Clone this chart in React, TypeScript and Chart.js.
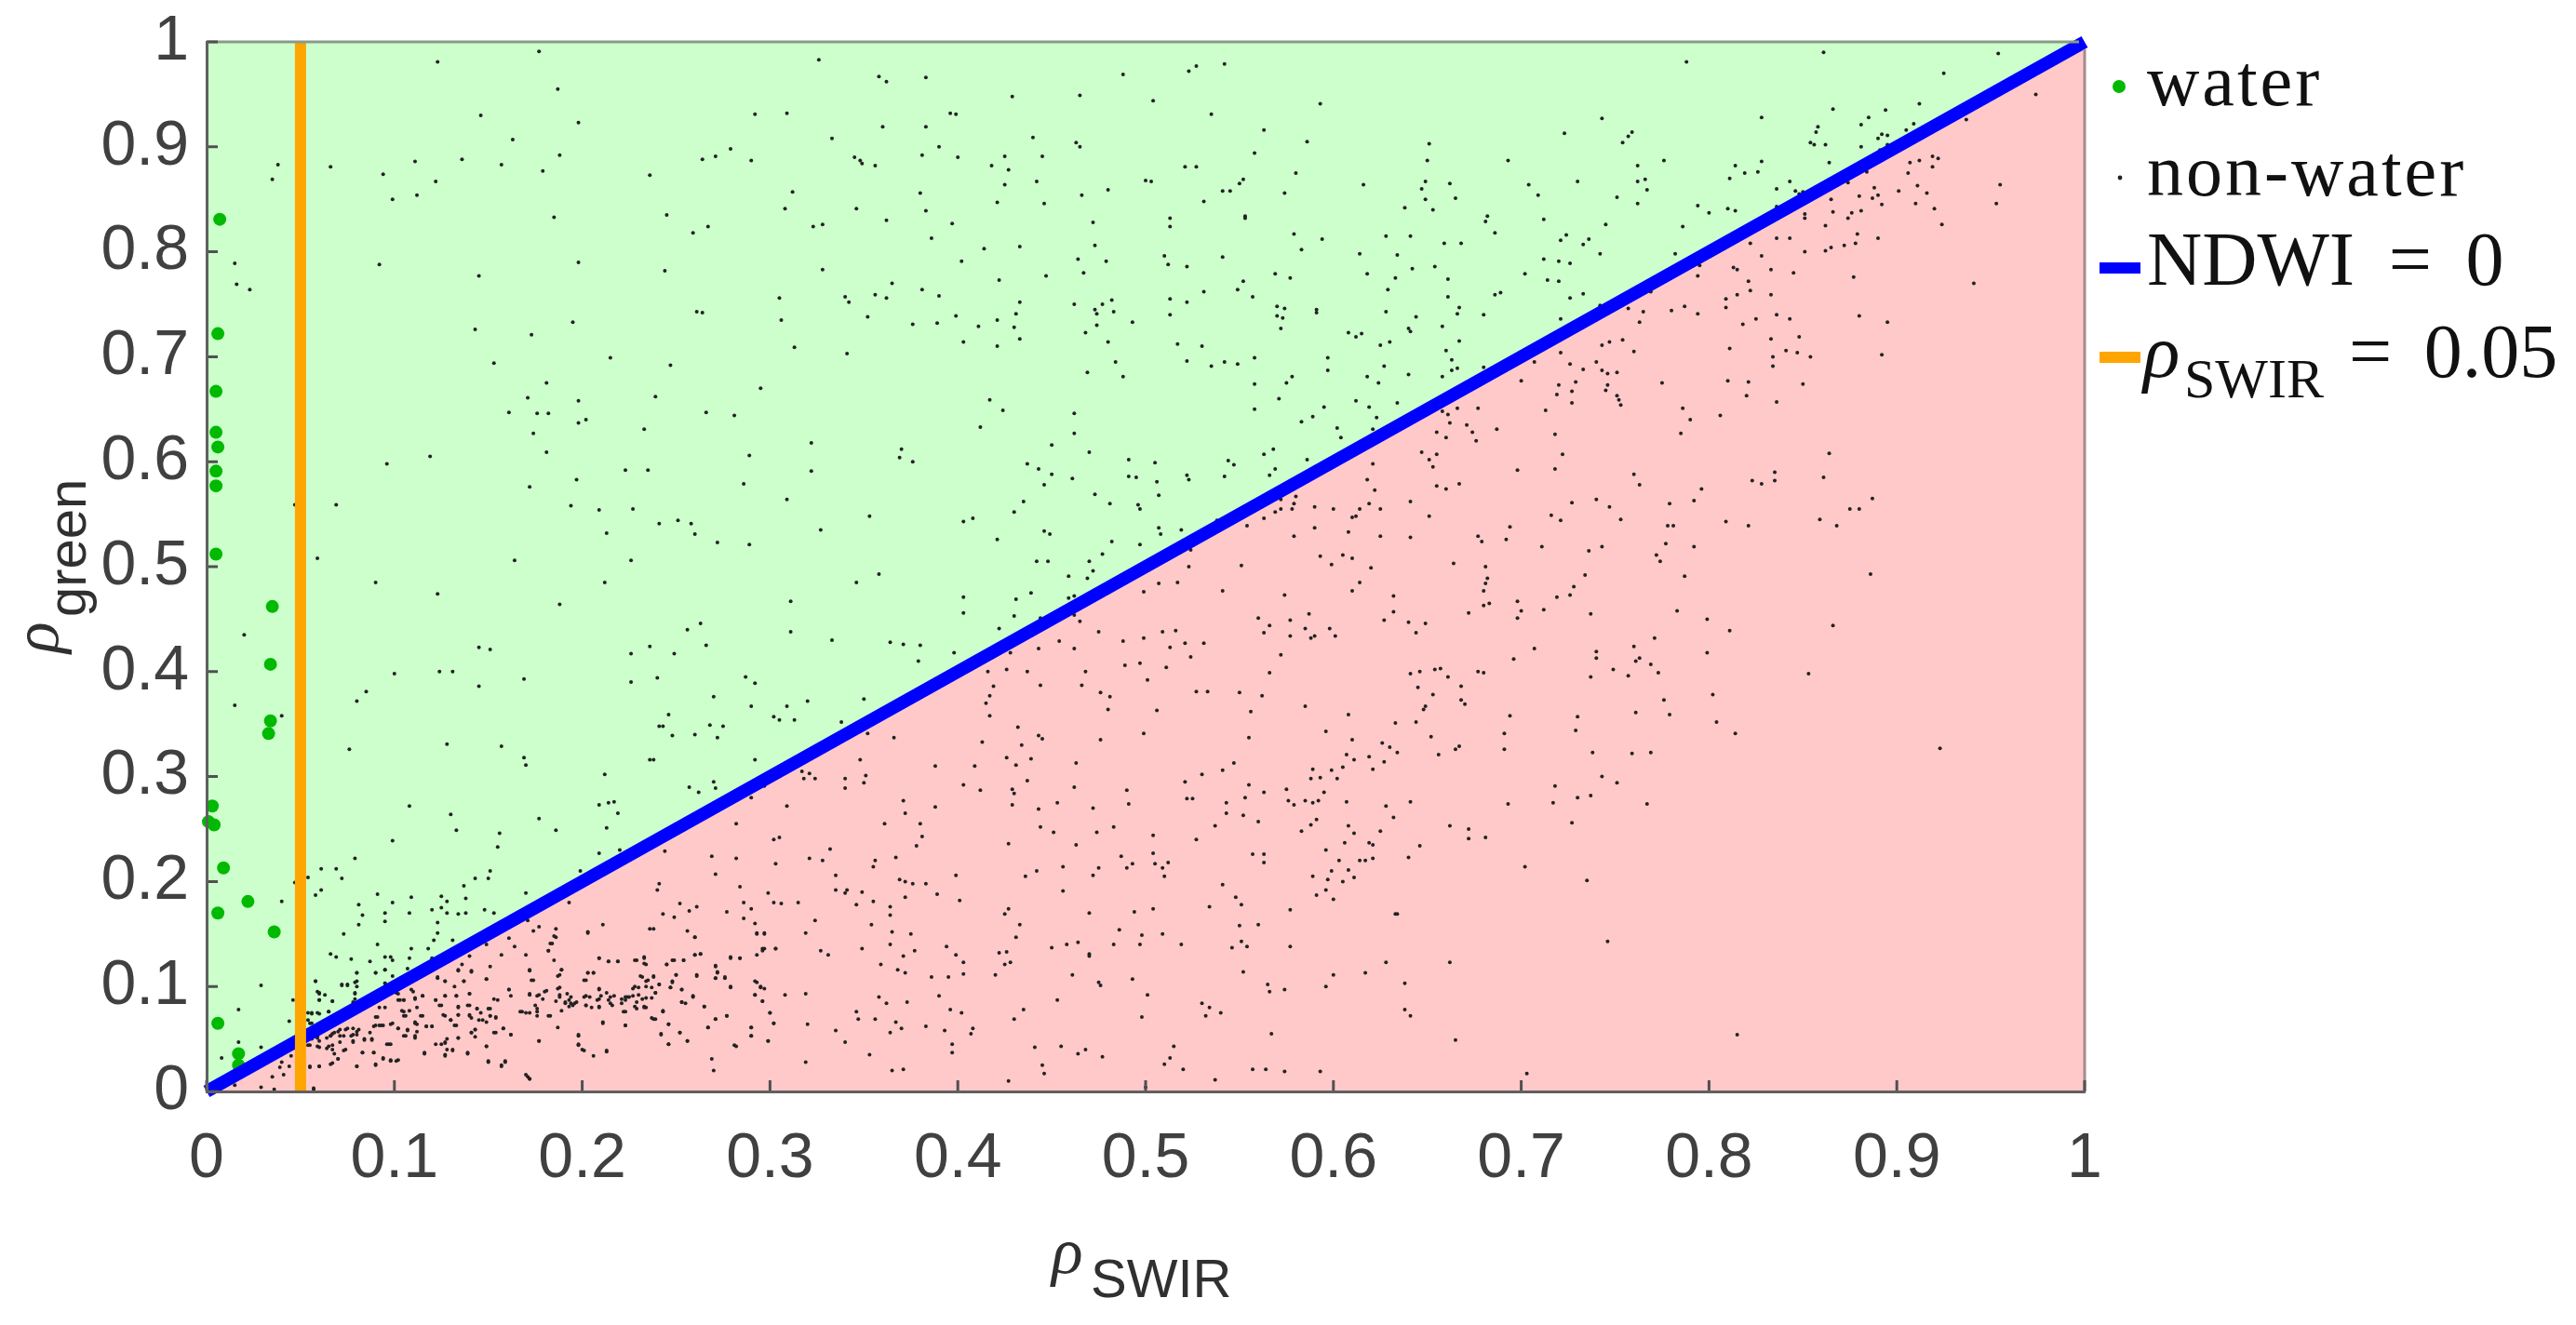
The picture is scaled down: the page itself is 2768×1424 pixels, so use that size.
import { useEffect, useRef } from "react";
import { Chart, registerables } from "chart.js";

Chart.register(...registerables);

// [rho_SWIR, rho_green]
const water = [[.007,.831],[.006,.722],[.005,.667],[.005,.628],[.006,.614],[.005,.591],[.005,.577],[.005,.512],[.035,.462],[.034,.407],[.034,.353],[.033,.341],[.003,.272],[.001,.257],[.004,.254],[.009,.213],[.022,.181],[.006,.170],[.036,.152],[.006,.065],[.017,.036],[.017,.025]];

const nonWaterLeftTop = [[.177,.991],[.123,.981],[.187,.955],[.146,.930],[.198,.923],[.163,.907],[.188,.892],[.038,.883],[.066,.881],[.111,.886],[.136,.888],[.157,.883],[.179,.877],[.035,.869],[.094,.874],[.122,.867],[.236,.873],[.099,.850],[.112,.854],[.185,.833],[.015,.789],[.092,.788],[.198,.790],[.145,.777],[.016,.769],[.023,.764],[.143,.726],[.195,.733],[.173,.721],[.153,.694],[.215,.699],[.181,.675],[.171,.661],[.198,.658],[.161,.647],[.176,.646],[.182,.646],[.198,.637],[.202,.640],[.233,.631],[.174,.627],[.119,.605],[.181,.609],[.096,.598]];

const nonWaterLeftMid = [[.223,.592],[.235,.592],[.197,.583],[.172,.576],[.069,.559],[.047,.559],[.194,.558],[.209,.554],[.227,.555],[.213,.532],[.059,.508],[.164,.506],[.226,.506],[.090,.485],[.212,.485],[.123,.474],[.188,.464],[.020,.435],[.145,.423],[.151,.421],[.236,.424],[.226,.417],[.124,.400],[.131,.400],[.100,.398],[.169,.393],[.226,.390],[.145,.386],[.085,.381],[.080,.372],[.015,.368],[.040,.358],[.076,.326],[.128,.331],[.157,.329],[.169,.318],[.170,.311],[.212,.302],[.236,.316],[.108,.272],[.209,.273],[.214,.275],[.217,.276],[.130,.264],[.219,.265],[.177,.260],[.133,.249],[.186,.249],[.213,.251],[.156,.246],[.099,.239],[.155,.233],[.209,.227],[.220,.230],[.079,.222],[.061,.212],[.069,.212],[.151,.210],[.199,.210],[.054,.204],[.072,.203],[.143,.203],[.150,.203],[.047,.199],[.137,.196],[.061,.192],[.058,.187],[.091,.188],[.170,.189],[.109,.185],[.125,.186],[.138,.184],[.040,.181],[.099,.180],[.128,.181],[.081,.178],[.193,.180]];

const nonWaterLeftBottom = [[.083,.168],[.095,.170],[.108,.170],[.120,.173],[.125,.175],[.128,.170],[.134,.169],[.138,.170],[.148,.173],[.153,.170],[.123,.161],[.081,.159],[.095,.162],[.171,.163],[.211,.159],[.174,.153],[.177,.157],[.186,.155],[.203,.152],[.236,.155],[.123,.151],[.073,.150],[.186,.147],[.161,.146],[.131,.144],[.121,.144],[.091,.140],[.149,.140],[.183,.141],[.164,.138],[.109,.136],[.118,.136],[.182,.134],[.066,.131],[.069,.128],[.077,.126],[.087,.124],[.095,.128],[.098,.128],[.099,.125],[.108,.127],[.120,.127],[.140,.129],[.157,.130],[.170,.130],[.136,.121],[.209,.127],[.214,.124],[.219,.124],[.228,.125],[.233,.128],[.234,.121],[.080,.113],[.090,.113],[.095,.116],[.107,.117],[.134,.115],[.141,.115],[.151,.119],[.172,.115],[.189,.116],[.188,.111],[.203,.113],[.206,.113],[.123,.109],[.127,.105],[.137,.105],[.149,.107],[.174,.106],[.201,.106],[.058,.105],[.029,.101],[.072,.102],[.075,.102],[.080,.105],[.080,.100],[.095,.103],[.231,.110],[.235,.106],[.059,.095],[.109,.097],[.161,.097],[.188,.099],[.209,.098],[.228,.100],[.079,.093],[.060,.093],[.101,.094],[.115,.091],[.127,.091],[.133,.091],[.140,.093],[.172,.092],[.176,.091],[.181,.096],[.188,.090],[.202,.091],[.209,.088],[.215,.090],[.223,.090],[.227,.091],[.232,.088],[.046,.087],[.060,.087],[.067,.086],[.078,.085],[.191,.085],[.194,.084],[.193,.081],[.196,.084],[.103,.087],[.105,.087],[.111,.088],[.122,.087],[.125,.082],[.134,.081],[.140,.082],[.153,.088],[.175,.082],[.202,.082],[.209,.081],[.215,.084],[.223,.087],[.228,.081],[.233,.081],[.167,.076],[.170,.075],[.176,.076],[.182,.072],[.223,.076],[.144,.079],[.151,.079],[.105,.076],[.106,.072],[.114,.072],[.127,.072],[.134,.073],[.140,.073],[.141,.070],[.147,.068],[.151,.072],[.154,.071],[.017,.078],[.054,.075],[.056,.075],[.059,.075],[.065,.076],[.054,.068],[.044,.067],[.056,.065],[.090,.071],[.111,.066],[.130,.068],[.132,.063],[.211,.066],[.223,.063],[.090,.063],[.093,.063],[.099,.065],[.117,.062],[.120,.062],[.143,.059],[.158,.060],[.067,.055],[.071,.059],[.075,.060],[.078,.060],[.081,.059],[.071,.053],[.077,.053],[.080,.054],[.102,.060],[.107,.059],[.111,.053],[.106,.053],[.141,.056],[.153,.056],[.162,.054],[.134,.051],[.177,.048],[.198,.054],[.054,.053],[.056,.050],[.059,.053],[.060,.048],[.064,.051],[.066,.053],[.078,.047],[.084,.050],[.088,.050],[.054,.044],[.059,.043],[.064,.041],[.067,.044],[.074,.040],[.017,.047],[.029,.042],[.096,.045],[.098,.045],[.122,.045],[.127,.047],[.149,.043],[.198,.045],[.200,.040],[.213,.039],[.083,.037],[.089,.037],[.116,.037],[.128,.040],[.131,.040],[.127,.035],[.139,.037],[.206,.034],[.008,.032],[.070,.031],[.094,.032],[.098,.030],[.102,.030],[.045,.034],[.150,.029],[.159,.029],[.157,.025],[.040,.028],[.044,.024],[.039,.023],[.067,.027],[.055,.024],[.060,.024],[.080,.024],[.090,.026],[.035,.014],[.041,.016],[.171,.014],[.172,.012],[.015,.006],[.029,.004],[.036,.002],[.057,.003]];

const nonWaterBandNearOrigin = [[.058,.105],[.060,.094],[.063,.092],[.060,.087],[.067,.086],[.072,.101],[.075,.101],[.079,.104],[.080,.113],[.090,.113],[.095,.116],[.099,.110],[.079,.094],[.079,.088],[.095,.103],[.056,.074],[.060,.074],[.065,.076],[.055,.065],[.070,.057],[.074,.059],[.080,.057],[.078,.054],[.073,.053],[.068,.056],[.066,.053],[.071,.047],[.078,.048],[.084,.049],[.088,.049],[.087,.056],[.089,.062],[.092,.063],[.094,.063],[.091,.071],[.098,.064],[.102,.060],[.107,.058],[.105,.053],[.112,.057],[.111,.051],[.111,.065],[.112,.064],[.115,.072],[.108,.077],[.104,.077],[.105,.072],[.092,.080],[.095,.080],[.112,.080],[.102,.087],[.105,.087],[.111,.089],[.115,.091],[.110,.095],[.102,.093],[.122,.087],[.124,.082],[.127,.091],[.133,.091],[.123,.108],[.127,.105],[.132,.100],[.137,.105],[.134,.116],[.141,.114],[.149,.107],[.161,.097],[.162,.091],[.140,.093],[.155,.087],[.172,.093],[.177,.092],[.173,.106],[.172,.116],[.134,.080],[.139,.082],[.126,.073],[.134,.073],[.140,.072],[.144,.079],[.146,.075],[.150,.079],[.151,.072],[.154,.070],[.145,.068],[.149,.066],[.130,.068],[.133,.063],[.117,.062],[.120,.062],[.168,.076],[.172,.075],[.176,.079],[.176,.072],[.158,.060],[.154,.056],[.143,.059],[.141,.056],[.143,.052],[.134,.051],[.128,.050],[.125,.045],[.127,.046],[.149,.043],[.162,.054],[.177,.048],[.097,.045],[.083,.037],[.089,.037],[.073,.039],[.068,.036],[.116,.036],[.127,.034],[.131,.039],[.139,.036],[.070,.031],[.066,.026],[.060,.024],[.055,.023],[.080,.024],[.090,.025],[.094,.031],[.098,.029],[.101,.029],[.150,.028],[.159,.028],[.157,.024],[.170,.016],[.172,.012],[.057,.002],[.060,.042],[.059,.051],[.055,.044],[.065,.043],[.067,.040]];

const nonWaterBandCluster = [[.193,.087],[.191,.084],[.195,.082],[.197,.085],[.194,.090],[.192,.093],[.188,.092],[.186,.086],[.179,.088],[.180,.095],[.187,.098],[.201,.090],[.204,.090],[.202,.082],[.205,.080],[.209,.080],[.208,.087],[.209,.097],[.213,.094],[.210,.091],[.214,.087],[.216,.082],[.217,.091],[.221,.088],[.221,.084],[.224,.090],[.225,.090],[.222,.076],[.227,.098],[.230,.099],[.230,.092],[.229,.085],[.229,.079],[.233,.080],[.234,.080],[.234,.089],[.237,.089],[.234,.105],[.234,.100],[.237,.099],[.232,.109],[.238,.110],[.241,.102],[.239,.094],[.247,.099],[.248,.105],[.250,.111],[.253,.097],[.253,.085],[.255,.084],[.259,.091],[.265,.081],[.243,.076],[.237,.070],[.239,.069],[.211,.065],[.223,.063],[.187,.061],[.246,.064],[.271,.069],[.277,.072],[.267,.061],[.252,.056],[.242,.055],[.183,.072],[.189,.077],[.198,.053],[.198,.044],[.201,.039],[.213,.038],[.256,.048],[.246,.045],[.290,.061],[.290,.053],[.299,.048],[.281,.044],[.300,.075],[.302,.065],[.292,.092],[.296,.086],[.292,.105],[.295,.100],[.297,.098],[.279,.100],[.276,.108],[.271,.119],[.272,.113],[.271,.108],[.261,.111],[.279,.127],[.284,.127],[.260,.130],[.263,.131],[.248,.125],[.254,.125],[.245,.121],[.229,.125],[.233,.127],[.233,.122],[.219,.124],[.214,.124],[.209,.127],[.185,.125],[.189,.116],[.187,.110],[.203,.113],[.206,.113],[.202,.106],[.182,.134],[.184,.141],[.185,.148],[.203,.151],[.260,.147],[.293,.150],[.297,.150],[.303,.136],[.296,.134],[.297,.136],[.293,.130]];

const nonWaterUpperMid = [[.326,.983],[.358,.967],[.362,.962],[.383,.966],[.488,.969],[.523,.972],[.527,.977],[.542,.979],[.429,.948],[.465,.949],[.504,.944],[.292,.931],[.309,.932],[.396,.932],[.399,.931],[.535,.931],[.360,.919],[.383,.919],[.563,.916],[.333,.908],[.440,.909],[.463,.904],[.465,.900],[.279,.898],[.390,.900],[.558,.894],[.264,.888],[.271,.891],[.290,.887],[.345,.890],[.348,.887],[.349,.884],[.356,.882],[.381,.892],[.400,.890],[.425,.891],[.445,.891],[.418,.882],[.427,.878],[.521,.881],[.527,.881],[.580,.875],[.425,.864],[.442,.867],[.500,.868],[.503,.867],[.552,.869],[.550,.865],[.312,.857],[.380,.856],[.480,.859],[.466,.854],[.541,.858],[.545,.858],[.574,.856],[.421,.847],[.446,.846],[.531,.848],[.308,.841],[.346,.841],[.383,.839],[.245,.835],[.362,.830],[.513,.832],[.553,.834],[.553,.832],[.397,.827],[.472,.828],[.267,.824],[.323,.824],[.328,.826],[.513,.824],[.259,.818],[.579,.817],[.386,.813],[.433,.805],[.473,.806],[.414,.803],[.583,.802],[.510,.796],[.541,.795],[.464,.793],[.402,.791],[.479,.791],[.512,.788],[.522,.786],[.244,.782],[.328,.783],[.467,.780],[.447,.777],[.569,.779],[.577,.775],[.422,.773],[.365,.770],[.552,.772],[.549,.764],[.381,.764],[.531,.762],[.356,.759],[.390,.758],[.557,.757],[.305,.756],[.340,.757],[.362,.756],[.513,.755],[.522,.752],[.342,.752],[.433,.752],[.462,.750],[.482,.754],[.477,.750],[.570,.748],[.574,.746],[.261,.743],[.264,.742],[.431,.741],[.473,.745],[.474,.741],[.483,.743],[.352,.738],[.399,.739],[.513,.740],[.570,.739],[.573,.737],[.306,.735],[.421,.735],[.493,.733],[.376,.731],[.389,.732],[.411,.729],[.430,.728],[.474,.730],[.572,.727],[.468,.723],[.433,.717],[.403,.714],[.480,.714],[.517,.712],[.313,.709],[.421,.710],[.530,.710],[.341,.703],[.558,.699],[.522,.696],[.484,.695],[.247,.692],[.542,.695],[.549,.693],[.535,.691],[.469,.685],[.488,.681],[.578,.681],[.295,.670],[.575,.675],[.558,.674],[.239,.662],[.571,.660],[.417,.659],[.424,.649],[.558,.650],[.266,.647],[.281,.644],[.462,.646],[.583,.638],[.412,.633],[.462,.627],[.322,.618],[.450,.616],[.370,.612],[.568,.612],[.470,.609],[.563,.607],[.289,.606],[.369,.604],[.376,.600],[.491,.602],[.544,.601],[.505,.599],[.547,.597],[.437,.598],[.443,.593],[.569,.593],[.322,.591],[.450,.588],[.491,.586],[.495,.585],[.461,.584],[.522,.587],[.523,.583],[.542,.586],[.566,.587],[.506,.581],[.286,.579],[.446,.578],[.507,.568],[.473,.569],[.309,.564],[.435,.562],[.481,.560],[.496,.559],[.497,.555],[.430,.552],[.353,.548],[.408,.546],[.403,.543],[.251,.544],[.241,.541],[.258,.541],[.507,.537],[.519,.535],[.327,.535],[.260,.531],[.446,.534],[.449,.531],[.508,.531],[.421,.526],[.272,.523],[.289,.521],[.482,.524],[.497,.521],[.477,.512],[.580,.567],[.572,.564],[.579,.560],[.578,.555],[.572,.555],[.569,.552],[.538,.544],[.563,.546],[.554,.539],[.579,.529],[.524,.516]];

const nonWaterLowerMid = [[.358,.493],[.346,.485],[.442,.505],[.448,.505],[.470,.505],[.459,.491],[.472,.496],[.469,.489],[.523,.500],[.551,.501],[.599,.502],[.620,.499],[.614,.485],[.507,.484],[.517,.485],[.499,.476],[.541,.477],[.610,.477],[.403,.471],[.439,.475],[.431,.469],[.459,.470],[.462,.472],[.311,.467],[.574,.473],[.632,.472],[.403,.456],[.263,.446],[.256,.440],[.430,.453],[.444,.451],[.462,.454],[.465,.448],[.587,.455],[.560,.451],[.577,.449],[.566,.444],[.627,.449],[.632,.457],[.422,.441],[.311,.438],[.475,.438],[.509,.438],[.516,.439],[.585,.441],[.598,.441],[.563,.437],[.577,.434],[.590,.434],[.588,.432],[.601,.434],[.333,.430],[.488,.429],[.499,.432],[.454,.429],[.531,.427],[.521,.427],[.364,.428],[.371,.426],[.380,.425],[.266,.425],[.443,.422],[.462,.422],[.513,.423],[.249,.417],[.398,.418],[.428,.418],[.524,.414],[.572,.416],[.379,.410],[.489,.406],[.497,.408],[.511,.404],[.416,.400],[.426,.402],[.437,.400],[.468,.400],[.566,.399],[.240,.394],[.287,.395],[.292,.389],[.501,.392],[.444,.387],[.466,.387],[.419,.386],[.270,.376],[.527,.381],[.533,.381],[.550,.380],[.417,.377],[.476,.380],[.481,.376],[.562,.377],[.350,.374],[.320,.372],[.415,.370],[.290,.367],[.309,.367],[.585,.367],[.480,.364],[.506,.363],[.246,.359],[.417,.358],[.556,.362],[.608,.359],[.302,.357],[.305,.354],[.313,.354],[.338,.352],[.241,.348],[.243,.348],[.268,.349],[.275,.348],[.633,.351],[.432,.347],[.352,.341],[.248,.339],[.260,.340],[.272,.337],[.366,.337],[.443,.339],[.445,.336],[.499,.341],[.555,.337],[.596,.343],[.476,.335],[.413,.333],[.610,.335],[.434,.330],[.626,.332],[.630,.328],[.238,.316],[.292,.316],[.348,.316],[.426,.318],[.439,.317],[.607,.321],[.611,.316],[.619,.319],[.627,.314],[.463,.313],[.547,.313],[.431,.311],[.388,.310],[.409,.310],[.605,.309],[.589,.307],[.599,.306],[.541,.306],[.621,.307],[.317,.305],[.321,.303],[.351,.301],[.530,.302],[.588,.298],[.593,.299],[.602,.298],[.318,.298],[.324,.298],[.340,.298],[.350,.294],[.437,.296],[.521,.295],[.270,.295],[.403,.292],[.257,.290],[.271,.289],[.297,.291],[.340,.289],[.462,.290],[.555,.292],[.429,.288],[.262,.285],[.412,.287],[.430,.284],[.490,.287],[.563,.285],[.575,.288],[.595,.285],[.553,.280],[.522,.279],[.525,.279],[.290,.280],[.371,.277],[.576,.277],[.585,.277],[.589,.275],[.592,.277],[.607,.276],[.543,.275],[.453,.275],[.491,.274],[.579,.273],[.309,.272],[.388,.271],[.429,.273],[.628,.272],[.443,.269],[.472,.270],[.372,.265],[.543,.265],[.552,.263],[.632,.261],[.591,.259],[.560,.257],[.361,.255],[.380,.255],[.282,.255],[.537,.253],[.588,.254],[.444,.252],[.483,.252],[.608,.253],[.451,.247],[.474,.247],[.583,.248],[.611,.246],[.625,.248],[.504,.244],[.381,.243],[.305,.242],[.302,.240],[.527,.240],[.427,.236],[.463,.235],[.378,.234],[.606,.237],[.619,.237],[.621,.235],[.244,.229],[.332,.231],[.596,.230],[.504,.227],[.557,.226],[.563,.226],[.269,.224],[.282,.222],[.321,.222],[.328,.220],[.367,.223],[.487,.224],[.621,.222],[.603,.220],[.614,.220],[.617,.220],[.356,.220],[.303,.217],[.563,.218],[.493,.217],[.505,.217],[.512,.218],[.355,.214],[.456,.214],[.490,.213],[.475,.213],[.509,.213],[.442,.210],[.599,.210],[.608,.211],[.271,.207],[.335,.206],[.399,.206],[.436,.205],[.472,.206],[.510,.205],[.589,.205],[.611,.204],[.369,.202],[.372,.200],[.597,.202],[.605,.200],[.241,.198],[.376,.198],[.383,.198],[.541,.197],[.284,.195],[.240,.192],[.335,.192],[.341,.192],[.340,.189],[.349,.190],[.389,.188],[.456,.191],[.299,.189],[.596,.192],[.591,.187],[.372,.185],[.548,.185],[.600,.183],[.401,.182],[.355,.181],[.286,.180],[.302,.180],[.306,.179],[.315,.180],[.346,.178],[.551,.178],[.252,.179],[.261,.176],[.364,.176],[.534,.176],[.257,.172],[.290,.174],[.427,.174],[.504,.174],[.577,.173],[.494,.171],[.277,.171],[.425,.169],[.243,.169],[.249,.166],[.364,.168],[.470,.170],[.633,.169],[.286,.165],[.324,.163],[.292,.160],[.433,.159],[.354,.159],[.550,.158],[.560,.159],[.238,.155],[.256,.153],[.293,.151],[.297,.151],[.319,.151],[.365,.152],[.375,.150],[.486,.154],[.498,.149],[.509,.150],[.260,.147],[.431,.147],[.464,.142],[.551,.143],[.483,.140],[.497,.140],[.519,.140],[.364,.140],[.458,.140],[.450,.137],[.394,.138],[.554,.138],[.546,.137],[.577,.138],[.296,.136],[.303,.136],[.349,.136],[.327,.134],[.331,.130],[.426,.133],[.422,.132],[.263,.131],[.260,.130],[.377,.134],[.470,.131],[.470,.129],[.399,.130],[.279,.128],[.284,.127],[.371,.129],[.249,.125],[.254,.125],[.245,.121],[.403,.123],[.425,.121],[.428,.123],[.628,.123],[.271,.120],[.359,.121],[.368,.116],[.372,.113],[.552,.114],[.272,.114],[.250,.111],[.261,.110],[.276,.109],[.271,.108],[.403,.112],[.420,.111],[.461,.111],[.600,.111],[.617,.113],[.386,.109],[.395,.109],[.493,.107],[.238,.109],[.248,.104],[.241,.102],[.247,.099],[.293,.104],[.295,.099],[.475,.104],[.476,.101],[.279,.099],[.253,.097],[.565,.102],[.566,.095],[.574,.097],[.596,.100],[.239,.094],[.319,.093],[.292,.092],[.308,.092],[.259,.090],[.390,.091],[.358,.090],[.501,.092],[.296,.086],[.453,.087],[.253,.085],[.362,.084],[.373,.085],[.265,.081],[.530,.084],[.534,.080],[.396,.078],[.435,.078],[.243,.077],[.300,.075],[.346,.076],[.402,.075],[.540,.075],[.277,.072],[.532,.072],[.498,.071],[.238,.069],[.271,.069],[.347,.069],[.356,.069],[.430,.069],[.367,.066],[.302,.065],[.246,.064],[.320,.064],[.383,.062],[.290,.061],[.267,.061],[.370,.060],[.408,.060],[.335,.058],[.393,.058],[.364,.056],[.252,.056],[.242,.054],[.407,.055],[.567,.055],[.290,.053],[.256,.048],[.299,.048],[.340,.047],[.397,.045],[.246,.045],[.282,.043],[.455,.043],[.441,.042],[.515,.043],[.468,.040],[.397,.037],[.464,.036],[.353,.035],[.477,.033],[.269,.031],[.513,.032],[.319,.028],[.445,.025],[.510,.026],[.270,.020],[.365,.020],[.371,.021],[.446,.017],[.520,.021],[.557,.021],[.564,.021],[.574,.019],[.593,.019],[.427,.010],[.537,.011],[.500,.004]];

const nonWaterUpperRight = [[.861,.990],[.954,.989],[.788,.981],[.925,.970],[.974,.950],[.593,.941],[.912,.941],[.866,.936],[.894,.935],[.743,.927],[.828,.928],[.885,.928],[.937,.926],[.881,.921],[.909,.922],[.858,.919],[.905,.916],[.857,.914],[.759,.914],[.723,.913],[.757,.910],[.892,.912],[.895,.911],[.890,.908],[.754,.904],[.586,.905],[.651,.903],[.854,.904],[.856,.902],[.862,.902],[.895,.902],[.881,.900],[.891,.897],[.650,.887],[.693,.887],[.776,.887],[.828,.886],[.864,.885],[.907,.885],[.912,.887],[.919,.891],[.922,.889],[.762,.882],[.814,.882],[.919,.881],[.819,.875],[.826,.876],[.884,.876],[.906,.875],[.811,.870],[.762,.867],[.766,.869],[.649,.867],[.730,.867],[.662,.865],[.616,.864],[.704,.864],[.843,.867],[.874,.866],[.955,.864],[.911,.863],[.647,.860],[.836,.860],[.767,.859],[.888,.861],[.846,.858],[.848,.855],[.850,.857],[.916,.856],[.709,.854],[.901,.858],[.751,.852],[.649,.850],[.665,.851],[.865,.850],[.880,.853],[.887,.851],[.890,.854],[.762,.846],[.953,.846],[.910,.846],[.638,.842],[.794,.844],[.653,.840],[.810,.841],[.814,.839],[.892,.845],[.920,.841],[.836,.843],[.800,.837],[.866,.838],[.881,.839],[.876,.837],[.851,.836],[.851,.832],[.682,.834],[.712,.831],[.681,.829],[.874,.832],[.924,.826],[.745,.826],[.862,.825],[.786,.824],[.879,.817],[.686,.818],[.724,.816],[.628,.815],[.641,.815],[.594,.812],[.721,.811],[.736,.812],[.836,.813],[.843,.813],[.890,.813],[.659,.808],[.668,.808],[.733,.807],[.822,.808],[.872,.806],[.878,.808],[.865,.804],[.862,.801],[.851,.800],[.614,.798],[.634,.797],[.742,.798],[.782,.798],[.828,.796],[.712,.793],[.720,.791],[.726,.789],[.654,.786],[.642,.784],[.795,.787],[.813,.785],[.815,.783],[.833,.783],[.702,.779],[.618,.779],[.845,.780],[.794,.777],[.877,.776],[.633,.775],[.661,.774],[.714,.773],[.720,.772],[.821,.772],[.941,.770],[.629,.764],[.822,.763],[.689,.761],[.686,.759],[.733,.760],[.815,.759],[.833,.759],[.661,.757],[.726,.756],[.809,.755],[.769,.762],[.742,.749],[.787,.748],[.809,.747],[.667,.747],[.591,.745],[.591,.742],[.628,.743],[.666,.741],[.680,.740],[.757,.746],[.765,.743],[.780,.744],[.794,.741],[.836,.740],[.880,.739],[.644,.738],[.825,.736],[.843,.736],[.721,.736],[.763,.733],[.895,.733],[.818,.731],[.658,.729],[.640,.727],[.641,.724],[.608,.723],[.615,.722],[.612,.719],[.848,.719],[.754,.716],[.747,.714],[.743,.711],[.833,.717],[.667,.715],[.630,.714],[.625,.711],[.811,.708],[.660,.706],[.841,.706],[.847,.704],[.721,.704],[.760,.705],[.892,.702],[.854,.700],[.834,.700],[.597,.699],[.663,.697],[.707,.695],[.740,.695],[.726,.693],[.627,.691],[.834,.691],[.680,.690],[.666,.689],[.663,.687],[.597,.687],[.733,.688],[.743,.687],[.746,.684],[.751,.685],[.640,.683],[.618,.681],[.658,.681],[.624,.675],[.700,.677],[.729,.676],[.720,.673],[.775,.675],[.810,.677],[.821,.676],[.850,.674],[.746,.673],[.745,.668],[.727,.667],[.719,.664],[.820,.663],[.751,.663],[.752,.659],[.612,.658],[.634,.656],[.727,.656],[.836,.657],[.595,.652],[.619,.652],[.753,.654],[.677,.651],[.666,.651],[.786,.651],[.658,.648],[.661,.645],[.713,.649],[.589,.643],[.623,.642],[.806,.644],[.790,.640],[.662,.637],[.671,.635],[.602,.632],[.621,.631],[.687,.631],[.655,.628],[.674,.628],[.785,.627],[.718,.626],[.604,.623],[.660,.623],[.676,.620],[.647,.609],[.655,.607],[.722,.607],[.864,.608],[.651,.602],[.586,.602],[.621,.598],[.653,.595],[.718,.593],[.698,.592],[.835,.590],[.760,.588],[.618,.583],[.861,.585],[.835,.582],[.622,.573],[.667,.579],[.655,.577],[.660,.574],[.763,.578],[.823,.582],[.828,.579],[.796,.574],[.887,.565],[.740,.564],[.727,.561],[.641,.562],[.792,.563],[.619,.560],[.779,.560],[.590,.557],[.600,.555],[.614,.555],[.625,.555],[.747,.557],[.875,.555],[.880,.555],[.651,.548],[.610,.547],[.612,.548],[.716,.549],[.721,.544],[.753,.545],[.809,.543],[.859,.545],[.590,.537],[.694,.538],[.778,.539],[.781,.539],[.821,.539],[.868,.539],[.608,.533],[.625,.529],[.641,.528],[.677,.529],[.679,.524],[.692,.526],[.711,.519],[.743,.519],[.736,.515],[.792,.519],[.777,.522],[.593,.510],[.605,.511],[.610,.508],[.772,.511]];

const nonWaterLowerRight = [[.664,.503],[.681,.500],[.774,.505],[.787,.491],[.886,.493],[.734,.492],[.682,.489],[.681,.484],[.728,.481],[.680,.477],[.726,.473],[.719,.471],[.698,.467],[.683,.465],[.680,.463],[.700,.458],[.712,.459],[.783,.458],[.672,.456],[.737,.455],[.698,.451],[.799,.450],[.640,.447],[.649,.446],[.644,.437],[.811,.439],[.866,.444],[.771,.432],[.707,.422],[.760,.424],[.740,.419],[.799,.418],[.740,.413],[.763,.413],[.761,.410],[.696,.412],[.769,.407],[.654,.402],[.657,.403],[.646,.400],[.641,.398],[.677,.400],[.680,.399],[.749,.402],[.757,.396],[.773,.399],[.853,.398],[.661,.395],[.737,.395],[.668,.386],[.645,.385],[.653,.378],[.802,.378],[.668,.373],[.670,.369],[.776,.373],[.649,.367],[.648,.364],[.761,.361],[.694,.358],[.730,.357],[.779,.359],[.644,.352],[.804,.352],[.729,.344],[.691,.341],[.814,.341],[.652,.338],[.923,.327],[.667,.329],[.665,.326],[.691,.326],[.738,.323],[.759,.322],[.769,.323],[.656,.321],[.634,.323],[.743,.300],[.751,.294],[.718,.291],[.730,.280],[.737,.282],[.717,.275],[.767,.274],[.693,.274],[.641,.276],[.727,.256],[.662,.253],[.672,.250],[.672,.241],[.681,.242],[.646,.234],[.640,.223],[.702,.214],[.735,.201],[.634,.169],[.746,.143],[.662,.123],[.638,.103],[.638,.078],[.641,.072],[.815,.054],[.665,.049],[.703,.017]];

const ndwiZero = [[0, 0], [1, 1]];
const swirLimit = [[0.05, 0], [0.05, 1]];
const tickStep = 0.1;

const toPoints = (rows: number[][]) => rows.map(([x, y]) => ({ x, y }));

const sansFont = '"Liberation Sans", Arial, sans-serif';
const serifFont = '"Liberation Serif", serif';

const GREEN = "#00b900";
const BLUE = "#0000ff";
const ORANGE = "#ffa500";
const TICK_LENGTH = 12;

// inward ticks, axis titles, legend and the two lighter frame sides
const overlayPlugin = {
    id: "overlay",
    afterDatasetsDraw(chart: Chart) {
        const { ctx, chartArea, scales } = chart;
        ctx.save();
        ctx.lineWidth = 3;
        ctx.strokeStyle = "#879b87";
        ctx.beginPath();
        ctx.moveTo(chartArea.left, chartArea.top);
        ctx.lineTo(chartArea.right - 6, chartArea.top);
        ctx.stroke();
        ctx.strokeStyle = "#a58c8c";
        ctx.beginPath();
        ctx.moveTo(chartArea.right, chartArea.top + 8);
        ctx.lineTo(chartArea.right, chartArea.bottom);
        ctx.stroke();

        ctx.strokeStyle = "#505050";
        ctx.beginPath();
        scales.x.ticks.forEach((tick) => {
            const px = scales.x.getPixelForValue(tick.value);
            ctx.moveTo(px, chartArea.bottom);
            ctx.lineTo(px, chartArea.bottom - TICK_LENGTH);
        });
        scales.y.ticks.forEach((tick) => {
            const py = scales.y.getPixelForValue(tick.value);
            ctx.moveTo(chartArea.left, py);
            ctx.lineTo(chartArea.left + TICK_LENGTH, py);
        });
        ctx.stroke();
        ctx.restore();
    },
    afterDraw(chart: Chart) {
        const { ctx } = chart;
        ctx.save();
        ctx.textBaseline = "alphabetic";
        ctx.textAlign = "left";
        ctx.fillStyle = "#303030";

        // x title
        ctx.font = `italic 70px ${serifFont}`;
        ctx.fillText("ρ", 1130, 1368);
        ctx.font = `58px ${sansFont}`;
        ctx.fillText("SWIR", 1172, 1394);

        // y title
        ctx.save();
        ctx.translate(62, 702);
        ctx.rotate(-Math.PI / 2);
        ctx.font = `italic 70px ${serifFont}`;
        ctx.fillText("ρ", 0, 0);
        ctx.font = `58px ${sansFont}`;
        ctx.fillText("green", 39, 30);
        ctx.restore();

        // legend
        ctx.fillStyle = "#111";
        ctx.font = `78px ${serifFont}`;
        (ctx as any).letterSpacing = "3px";
        ctx.fillText("water", 2307, 113);
        ctx.fillText("non-water", 2307, 210);
        (ctx as any).letterSpacing = "0px";
        ctx.font = `82px ${serifFont}`;
        (ctx as any).wordSpacing = "16px";
        ctx.fillText("NDWI = 0", 2307, 306);
        (ctx as any).wordSpacing = "14px";
        ctx.font = `italic 82px ${serifFont}`;
        ctx.fillText("ρ", 2303, 405);
        ctx.font = `60px ${serifFont}`;
        ctx.fillText("SWIR", 2347, 427);
        ctx.font = `82px ${serifFont}`;
        ctx.fillText("= 0.05", 2524, 405);
        (ctx as any).wordSpacing = "0px";

        ctx.fillStyle = GREEN;
        ctx.beginPath();
        ctx.arc(2277, 93, 7, 0, Math.PI * 2);
        ctx.fill();
        ctx.fillStyle = "#222";
        ctx.beginPath();
        ctx.arc(2278, 191, 2.4, 0, Math.PI * 2);
        ctx.fill();
        ctx.fillStyle = BLUE;
        ctx.fillRect(2256, 282, 44, 12);
        ctx.fillStyle = ORANGE;
        ctx.fillRect(2256, 378, 44, 12);
        ctx.restore();
    },
};

const App = () => {
    const chartRef = useRef<HTMLCanvasElement | null>(null);

    useEffect(() => {
        document.body.style.margin = "0";
        if (!chartRef.current) return;

        const axis = {
            type: "linear" as const,
            min: 0,
            max: 1,
            border: { color: "#606060", width: 3, z: 1 },
            grid: { drawOnChartArea: false, drawTicks: false },
        };
        const tickFont = { family: sansFont, size: 68 };
        const tickLabel = (value: number | string) => String(Number(Number(value).toFixed(1)));

        const chart = new Chart(chartRef.current, {
            type: "scatter",
            data: {
                datasets: [
                    {
                        label: "ρSWIR = 0.05",
                        type: "line",
                        data: toPoints(swirLimit),
                        borderColor: ORANGE,
                        borderWidth: 12,
                        pointRadius: 0,
                        order: 0,
                    },
                    {
                        label: "NDWI = 0",
                        type: "line",
                        data: toPoints(ndwiZero),
                        borderColor: BLUE,
                        borderWidth: 14,
                        pointRadius: 0,
                        clip: false,
                        order: 1,
                    },
                    {
                        label: "water",
                        data: toPoints(water),
                        backgroundColor: GREEN,
                        pointRadius: 7,
                        borderWidth: 0,
                        clip: false,
                        order: 2,
                    },
                    {
                        label: "non-water",
                        data: toPoints([
                            ...nonWaterLeftTop,
                            ...nonWaterLeftMid,
                            ...nonWaterLeftBottom,
                            ...nonWaterBandNearOrigin,
                            ...nonWaterBandCluster,
                            ...nonWaterUpperMid,
                            ...nonWaterLowerMid,
                            ...nonWaterUpperRight,
                            ...nonWaterLowerRight,
                        ]),
                        backgroundColor: "#222222",
                        pointRadius: 2,
                        borderWidth: 0,
                        order: 3,
                    },
                    {
                        label: "water side",
                        type: "line",
                        data: toPoints(ndwiZero),
                        borderWidth: 0,
                        pointRadius: 0,
                        fill: "end",
                        backgroundColor: "#ccffcc",
                        order: 4,
                    },
                    {
                        label: "non-water side",
                        type: "line",
                        data: toPoints(ndwiZero),
                        borderWidth: 0,
                        pointRadius: 0,
                        fill: "start",
                        backgroundColor: "#ffc9c9",
                        order: 5,
                    },
                ],
            },
            options: {
                responsive: false,
                animation: false,
                devicePixelRatio: 1,
                layout: { padding: { left: 0, top: 45, right: 528, bottom: 101 } },
                plugins: {
                    legend: { display: false },
                    tooltip: { enabled: false },
                },
                scales: {
                    x: {
                        ...axis,
                        afterFit: (scale: any) => {
                            scale.height = 150;
                            scale.paddingLeft = 0;
                            scale.paddingRight = 0;
                        },
                        ticks: {
                            stepSize: tickStep,
                            autoSkip: false,
                            maxRotation: 0,
                            padding: 32,
                            color: "#404040",
                            font: tickFont,
                            callback: tickLabel,
                        },
                    },
                    y: {
                        ...axis,
                        afterFit: (scale: any) => {
                            scale.width = 222;
                            scale.paddingTop = 0;
                            scale.paddingBottom = 0;
                        },
                        ticks: {
                            stepSize: tickStep,
                            autoSkip: false,
                            padding: 19,
                            color: "#404040",
                            font: tickFont,
                            callback: tickLabel,
                        },
                    },
                },
            },
            plugins: [overlayPlugin],
        } as any);

        return () => {
            chart.destroy();
        };
    }, []);

    return <canvas ref={chartRef} width={2768} height={1424} style={{ display: "block" }} />;
};

export default App;
